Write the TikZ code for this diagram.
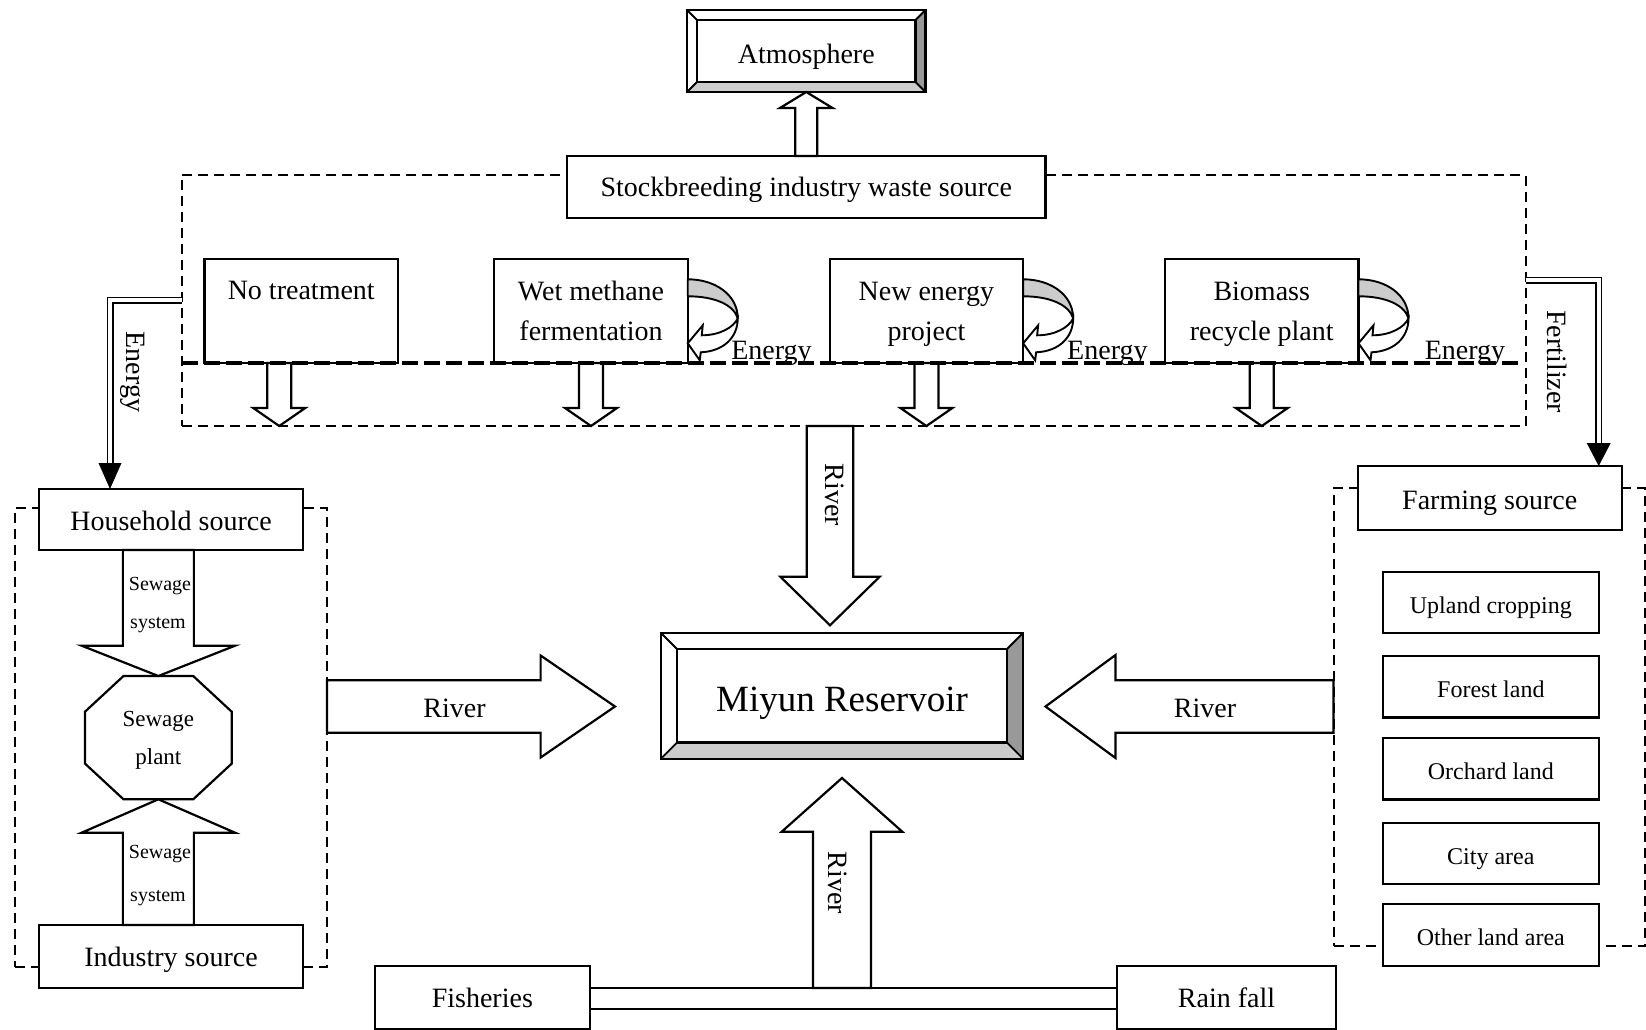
\documentclass[tikz,border=0pt]{standalone}
\usepackage{fontspec}
\setmainfont{Liberation Serif}
\usetikzlibrary{calc}
\tikzset{
  ln/.style={line width=2.2pt},
  box/.style={draw, fill=white, line width=2.2pt, inner sep=0pt, outer sep=0pt, text depth=0pt, font=\fontsize{28}{40}\selectfont},
  topbox/.style={box, align=center, minimum width=193.5pt, minimum height=103.7pt},
  landbox/.style={box, minimum width=216.3pt, minimum height=61.5pt, font=\fontsize{24}{30}\selectfont, text height=21.6pt},
  grp/.style={draw, line width=2pt, dash pattern=on 10pt off 6pt, inner sep=0pt, outer sep=0pt},
  thickdash/.style={line width=4pt, dash pattern=on 16pt off 6pt},
  blk/.style={draw, fill=white, line width=2.2pt, line join=miter},
  dbl/.style={double, double distance=3.6pt, line width=1.7pt},
  txt/.style={inner sep=0pt, outer sep=0pt, font=\fontsize{28}{34}\selectfont},
  smalltxt/.style={inner sep=0pt, outer sep=0pt, font=\fontsize{20}{24}\selectfont},
}
\newcommand\mybevel[2]{%
  \fill[black!20] (#1.south west) -- (#1.south east) -- ($(#1.south east)+(-#2,-#2)$) -- ($(#1.south west)+(#2,-#2)$) -- cycle;
  \fill[black!40] (#1.north east) -- (#1.south east) -- ($(#1.south east)+(-#2,-#2)$) -- ($(#1.north east)+(-#2,#2)$) -- cycle;
  \draw[ln] ($(#1.north west)+(#2,#2)$) rectangle ($(#1.south east)+(-#2,-#2)$);
  \draw[line width=1.8pt] (#1.north west) -- ++(#2,#2) (#1.north east) -- ++(-#2,#2) (#1.south west) -- ++(#2,-#2) (#1.south east) -- ++(-#2,-#2);
  \draw[ln] (#1.north west) rectangle (#1.south east);
}
\newcommand\myblockarr[5]{%
  \coordinate (ba-h) at ($(#2)!#5!(#1)$);
  \draw[blk] ($(#1)!#3!90:(#2)$) -- ($(ba-h)!#3!90:(#2)$) -- ($(ba-h)!#4!90:(#2)$) -- (#2) -- ($(ba-h)!#4!-90:(#2)$) -- ($(ba-h)!#3!-90:(#2)$) -- ($(#1)!#3!-90:(#2)$) -- cycle;
}
\newcommand\myselfarr[1]{%
  \begin{scope}[shift={(#1.north east)}]
    \filldraw[fill=black!20, line width=1.9pt, line join=round] (0,20) .. controls (28,20) and (50,36) .. (50,59) .. controls (46,46) and (28,37) .. (0,37) -- cycle;
    \filldraw[fill=white, line width=1.9pt, line join=miter] (50,59) .. controls (50,78) and (36,92) .. (13,93) -- (12,101) -- (0,84) -- (15,66) -- (14,76) .. controls (32,76) and (46,68) .. (50,59) -- cycle;
  \end{scope}}
\begin{document}
\begin{tikzpicture}[x=1pt,y=-1pt]
\useasboundingbox (0,0) rectangle (1646,1030);
% groups
\node[grp, minimum width=1343.9pt, minimum height=251pt] (stockgrp) at (853.55,300.5) {};
\node[grp, minimum width=312pt, minimum height=459pt] (leftgrp) at (171,737.5) {};
\node[grp, minimum width=311.5pt, minimum height=458pt] (rightgrp) at (1489.25,717) {};
% boxes
\node[box, text height=26pt, minimum width=238.5pt, minimum height=82pt] (atm) at (806.25,51) {Atmosphere};
\mybevel{atm}{10}
\node[box, text height=19.1pt, minimum width=478.5pt, minimum height=62.3pt] (stock) at (806.25,187.15) {Stockbreeding industry waste source};
\node[topbox] (notr) at (301.25,311.15) {};
\node[txt, anchor=base] (notrtxt) at (301.25,299) {No treatment};
\node[topbox] (wet) at (591,311.15) {Wet methane\\fermentation};
\node[topbox] (newe) at (926.4,311.15) {New energy\\project};
\node[topbox] (bio) at (1261.75,311.15) {Biomass\\recycle plant};
\node[box, text height=22.4pt, minimum width=264pt, minimum height=61pt] (house) at (171,519.5) {Household source};
\node[box, text height=20.4pt, minimum width=264pt, minimum height=63pt] (indus) at (171,956.5) {Industry source};
\node[inner sep=0pt, outer sep=0pt, minimum width=146.7pt, minimum height=123.3pt, text depth=0pt, align=center, font=\fontsize{23}{37.6}\selectfont] (plant) at (158.35,737.65) {Sewage\\plant};
\draw[ln] ($(plant.north west)+(38.5,0)$) -- ($(plant.north east)+(-38.5,0)$) -- ($(plant.north east)+(0,35.7)$) -- ($(plant.south east)+(0,-35.7)$) -- ($(plant.south east)+(-38.5,0)$) -- ($(plant.south west)+(38.5,0)$) -- ($(plant.south west)+(0,-35.7)$) -- ($(plant.north west)+(0,35.7)$) -- cycle;
\node[box, font=\fontsize{37}{44}\selectfont, text height=31pt, minimum width=362.6pt, minimum height=126.3pt] (miyun) at (842,695.85) {Miyun Reservoir};
\mybevel{miyun}{16.5}
\node[box, text height=22.6pt, minimum width=264pt, minimum height=64pt] (farm) at (1489.7,498) {Farming source};
\node[landbox] (upland) at (1490.85,602.5) {Upland cropping};
\node[landbox] (forest) at (1490.85,686.65) {Forest land};
\node[landbox] (orchard) at (1490.85,768.8) {Orchard land};
\node[landbox] (city) at (1490.85,853.35) {City area};
\node[landbox] (other) at (1490.85,935) {Other land area};
\node[box, text height=20pt, minimum width=215.3pt, minimum height=63pt] (fish) at (482.35,997.2) {Fisheries};
\node[box, text height=20pt, minimum width=219pt, minimum height=63pt] (rain) at (1226.5,997.2) {Rain fall};
% channel between fisheries and rain fall
\coordinate (chTop) at ($(fish.east)+(0,-9.2)$);
\coordinate (chBot) at ($(fish.east)+(0,11.8)$);
\draw[ln] (chTop) -- (chTop -| rain.west);
\draw[ln] (chBot) -- (chBot -| rain.west);
% block arrows
\coordinate (atmS) at (atm.south |- stock.north);
\myblockarr{atmS}{atm.south}{11pt}{26.3pt}{16pt}
\coordinate (d1S) at ($(notr.south)+(-22,0)$);
\coordinate (d1T) at (d1S |- stockgrp.south);
\myblockarr{d1S}{d1T}{12pt}{26pt}{18pt}
\coordinate (d2T) at (wet.south |- stockgrp.south);
\myblockarr{wet.south}{d2T}{12pt}{26pt}{18pt}
\coordinate (d3T) at (newe.south |- stockgrp.south);
\myblockarr{newe.south}{d3T}{12pt}{26pt}{18pt}
\coordinate (d4T) at (bio.south |- stockgrp.south);
\myblockarr{bio.south}{d4T}{12pt}{26pt}{18pt}
\coordinate (rtS) at (830,426);
\coordinate (rtT) at (830,625.3);
\myblockarr{rtS}{rtT}{23.3pt}{49.7pt}{48.6pt}
\coordinate (rbS) at (chTop -| miyun.south);
\coordinate (rbT) at ($(miyun.south)+(0,19)$);
\myblockarr{rbS}{rbT}{29pt}{60.3pt}{53.7pt}
\coordinate (rlS) at (327,706.5);
\coordinate (rlT) at (615,706.5);
\myblockarr{rlS}{rlT}{26.3pt}{51pt}{74.4pt}
\coordinate (rrS) at (1333.5,706.5);
\coordinate (rrT) at (1045.5,706.5);
\myblockarr{rrS}{rrT}{26.3pt}{51.5pt}{70pt}
\coordinate (sdS) at (plant.north |- house.south);
\myblockarr{sdS}{plant.north}{35.5pt}{76.7pt}{30.3pt}
\coordinate (suS) at (plant.south |- indus.north);
\myblockarr{suS}{plant.south}{35.5pt}{76.7pt}{33.4pt}
% thick dashed line
\draw[thickdash] (182,363) -- (1518,363);
% curved energy arrows
\myselfarr{wet}
\myselfarr{newe}
\myselfarr{bio}
% energy and fertilizer connectors
\coordinate (eB) at (110,300);
\draw[dbl, shorten >=25pt] (stockgrp.west |- eB) -- (eB) -- (eB |- house.north);
\fill (eB |- house.north) -- ++(-11.5,-26) -- ++(23,0) -- cycle;
\coordinate (fB) at (1598.7,280);
\draw[dbl, shorten >=22pt] (stockgrp.east |- fB) -- (fB) -- (fB |- farm.north);
\fill (fB |- farm.north) -- ++(-12,-23) -- ++(24,0) -- cycle;
% labels
\node[txt, rotate=-90] (lEnergy) at (133,372) {Energy};
\node[txt, rotate=-90] (lFert) at (1556.7,361.7) {Fertilizer};
\node[txt, anchor=base] (lE1) at (771.5,359) {Energy};
\node[txt, anchor=base] (lE2) at (1107.4,359) {Energy};
\node[txt, anchor=base] (lE3) at (1465,359) {Energy};
\node[txt, rotate=-90] (lR1) at (835,495) {River};
\node[txt, rotate=-90] (lR2) at (838,883) {River};
\node[txt] (lR3) at (454.5,708) {River};
\node[txt] (lR4) at (1205,708) {River};
\node[smalltxt, anchor=base] (s1) at (160,590) {Sewage};
\node[smalltxt, anchor=base] (s2) at (158,628.3) {system};
\node[smalltxt, anchor=base] (s3) at (160,858.3) {Sewage};
\node[smalltxt, anchor=base] (s4) at (158,901.7) {system};
\end{tikzpicture}
\end{document}
